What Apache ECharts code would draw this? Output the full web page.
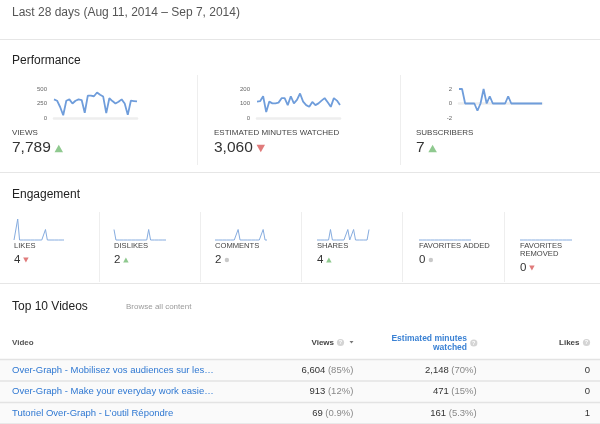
<!DOCTYPE html>
<html><head><meta charset="utf-8">
<script src="https://cdn.jsdelivr.net/npm/echarts@6/dist/echarts.min.js"></script>
<style>html,body{margin:0;padding:0;background:#fff}#c{width:600px;height:424px}</style>
</head><body><div id="c"></div>
<script>
// ---------- data ----------
const days = ['Aug 11','Aug 12','Aug 13','Aug 14','Aug 15','Aug 16','Aug 17','Aug 18','Aug 19','Aug 20','Aug 21','Aug 22','Aug 23','Aug 24','Aug 25','Aug 26','Aug 27','Aug 28','Aug 29','Aug 30','Aug 31','Sep 1','Sep 2','Sep 3','Sep 4','Sep 5','Sep 6','Sep 7'];
const viewsData = [321,298,190,48,298,321,250,298,321,310,90,387,387,375,440,400,370,83,340,292,250,280,321,250,54,298,292,286];
const minutesData = [113,116,150,41,113,101,101,106,137,137,89,150,101,125,169,113,89,77,111,89,101,120,137,108,77,137,120,89];
const subscribersData = [2,2,0,0,0,0,-1,0,2,0,1,0,0,0,0,0,1,0,0,0,0,0,0,0,0,0,0,0];
const likesData = [0,0,2,0,0,0,0,0,0,0,0,0,0,0,0,0,0,1,0,0,0,0,0,0,0,0,0,0];
const dislikesData = [1,0,0,0,0,0,0,0,0,0,0,0,0,0,0,0,0,0,1,0,0,0,0,0,0,0,0,0];
const commentsData = [0,0,0,0,0,0,0,0,0,0,0,0,1,0,0,0,0,0,0,0,0,0,0,0,0,1,0,0];
const sharesData = [0,0,0,0,0,0,0,1,0,0,0,0,0,0,0,0,1,0,0,1,0,0,0,0,0,0,0,1];
const favAddedData = [0,0,0,0,0,0,0,0,0,0,0,0,0,0,0,0,0,0,0,0,0,0,0,0,0,0,0,0];
const favRemovedData = [0,0,0,0,0,0,0,0,0,0,0,0,0,0,0,0,0,0,0,0,0,0,0,0,0,0,0,0];

const perfLabels = ['VIEWS','ESTIMATED MINUTES WATCHED','SUBSCRIBERS'];
const perfTotals = ['7,789','3,060','7'];
const perfTrends = ['up','down','up'];
const perfAxes = [{min:0,max:500,interval:250},{min:0,max:200,interval:100},{min:-2,max:2,interval:2}];

const engLabels = ['LIKES','DISLIKES','COMMENTS','SHARES','FAVORITES ADDED','FAVORITES\nREMOVED'];
const engTotals = ['4','2','2','4','0','0'];
const engTrends = ['down','up','flat','up','flat','down'];

const videoTitles = ['Over-Graph - Mobilisez vos audiences sur les…','Over-Graph - Make your everyday work easie…','Tutoriel Over-Graph - L\u2019outil Répondre'];
const videoViews = ['6,604','913','69'];
const videoViewsPct = ['(85%)','(12%)','(0.9%)'];
const videoMinutes = ['2,148','471','161'];
const videoMinutesPct = ['(70%)','(15%)','(5.3%)'];
const videoLikes = ['0','0','1'];

// ---------- layout ----------
const FONT = '"Liberation Sans", Arial, Helvetica, sans-serif';
const GREEN = '#8fc98f', RED = '#e07b7b', GREYDOT = '#c9c9c9';
const LINE_BLUE = '#6f9ddb', SPARK_BLUE = '#86acdf';
const perfGrid = [{left:54,width:83},{left:257,width:83},{left:459,width:83}];
const perfTextX = [12,214,416];
const engGrid = [{left:14,width:50},{left:114,width:52},{left:215,width:52},{left:317,width:52},{left:419,width:52},{left:520,width:52}];
const engTextX = [14,114,215,317,419,520];

const ctx = document.createElement('canvas').getContext('2d');
function measure(t, size, weight){ ctx.font = (weight||'normal')+' '+size+'px '+FONT; return ctx.measureText(t).width; }

const G = [];
function txt(x,y,text,size,color,o){
  o = o||{};
  G.push({type:'text', x:x, y:y, z:o.z||10, style:{text:text, fontSize:size, fontFamily:FONT, fontWeight:o.weight||'normal', fill:color, align:o.align||'left', verticalAlign:'middle'}});
}
function hline(x1,x2,y,color,w){ G.push({type:'line', z:5, shape:{x1:x1,y1:y,x2:x2,y2:y}, style:{stroke:color, lineWidth:w||1}}); }
function vline(x,y1,y2,color,w){ G.push({type:'line', z:5, shape:{x1:x,y1:y1,x2:x,y2:y2}, style:{stroke:color, lineWidth:w||1}}); }
function trend(kind, cx, cy, s){
  if(kind==='up') G.push({type:'polygon', z:10, shape:{points:[[cx-s/2,cy+s*0.45],[cx+s/2,cy+s*0.45],[cx,cy-s*0.45]]}, style:{fill:GREEN}});
  else if(kind==='down') G.push({type:'polygon', z:10, shape:{points:[[cx-s/2,cy-s*0.45],[cx+s/2,cy-s*0.45],[cx,cy+s*0.45]]}, style:{fill:RED}});
  else G.push({type:'circle', z:10, shape:{cx:cx,cy:cy,r:s*0.4}, style:{fill:GREYDOT}});
}
function qmark(cx,cy){
  G.push({type:'circle', z:10, shape:{cx:cx,cy:cy,r:3.6}, style:{fill:'#d4d4d4'}});
  txt(cx,cy+0.3,'?',5.5,'#fff',{align:'center',weight:'bold',z:11});
}

// header
txt(12,13,'Last 28 days (Aug 11, 2014 \u2013 Sep 7, 2014)',12,'#555');
hline(0,600,39.5,'#e6e6e6',1);
txt(12,61,'Performance',12,'#222');
vline(197.5,75,165,'#eeeeee',1);
vline(400.5,75,165,'#eeeeee',1);
perfLabels.forEach((l,i)=>{
  txt(perfTextX[i],133,l,8,'#444');
  txt(perfTextX[i],148,perfTotals[i],15.5,'#333');
  const w = measure(perfTotals[i],15.5);
  trend(perfTrends[i], perfTextX[i]+w+8, 148.5, 8.5);
});
hline(0,600,172.5,'#e6e6e6',1);
txt(12,195,'Engagement',12,'#222');
[99.5,200.5,301.5,402.5,504.5].forEach(x=>vline(x,212,282,'#eeeeee',1));
engLabels.forEach((l,i)=>{
  const parts = l.split('\n');
  parts.forEach((p,k)=>txt(engTextX[i],245.7+k*8.5,p,7.6,'#444'));
  const ny = 260 + (parts.length-1)*8;
  txt(engTextX[i],ny,engTotals[i],11.5,'#333');
  const w = measure(engTotals[i],11.5);
  trend(engTrends[i], engTextX[i]+w+5.5, ny, 5.5);
});
hline(0,600,283.5,'#e6e6e6',1);

// table
txt(12,307,'Top 10 Videos',12,'#222');
txt(126,307,'Browse all content',8,'#9a9a9a');
txt(12,342.3,'Video',8,'#555',{weight:'bold'});
txt(334,342.3,'Views',8,'#444',{weight:'bold',align:'right'});
qmark(340.5,342.5);
G.push({type:'polygon', z:10, shape:{points:[[349.5,341],[353.5,341],[351.5,343.5]]}, style:{fill:'#777'}});
txt(467,338.3,'Estimated minutes',8.5,'#3b82d4',{weight:'bold',align:'right'});
txt(467,347.3,'watched',8.5,'#3b82d4',{weight:'bold',align:'right'});
qmark(473.8,343);
txt(579.5,342.3,'Likes',8,'#444',{weight:'bold',align:'right'});
qmark(586.5,342.5);
const rowTop = [359.5,381,402.5], rowH = 21.5;
hline(0,600,359.5,'#e3e3e3',1.5);
videoTitles.forEach((t,i)=>{
  G.push({type:'rect', z:1, shape:{x:0,y:rowTop[i],width:600,height:rowH}, style:{fill:'#fafafa'}});
  hline(0,600,rowTop[i]+rowH,'#e3e3e3',1.5);
  const cy = rowTop[i]+rowH/2;
  txt(12,cy,t,9.5,'#2f78d2');
  const pw = measure(videoViewsPct[i],9.5);
  txt(353.3,cy,videoViewsPct[i],9.5,'#888',{align:'right'});
  txt(353.3-pw-2.6,cy,videoViews[i],9.5,'#333',{align:'right'});
  const mw = measure(videoMinutesPct[i],9.5);
  txt(476.7,cy,videoMinutesPct[i],9.5,'#888',{align:'right'});
  txt(476.7-mw-2.6,cy,videoMinutes[i],9.5,'#333',{align:'right'});
  txt(590,cy,videoLikes[i],9.5,'#333',{align:'right'});
});

// ---------- chart ----------
const grids = [], xAxes = [], yAxes = [], series = [];
const perfData = [viewsData, minutesData, subscribersData];
perfData.forEach((d,i)=>{
  grids.push({left:perfGrid[i].left, width:perfGrid[i].width, top:89, height:29});
  xAxes.push({type:'category', gridIndex:i, data:days, boundaryGap:false,
    axisLine:{show:true,onZero:true,lineStyle:{color:'#eeeeee',width:2.5}}, axisTick:{show:false}, axisLabel:{show:false}, splitLine:{show:false}});
  yAxes.push({type:'value', gridIndex:i, min:perfAxes[i].min, max:perfAxes[i].max, interval:perfAxes[i].interval,
    axisLine:{show:false}, axisTick:{show:false}, splitLine:{show:false},
    axisLabel:{fontSize:6, color:'#666', margin:7, fontFamily:FONT}});
  series.push({type:'line', xAxisIndex:i, yAxisIndex:i, data:d, symbol:'none', clip:false,
    lineStyle:{color:LINE_BLUE, width:1.8}, z:3});
});
const engData = [likesData, dislikesData, commentsData, sharesData, favAddedData, favRemovedData];
engData.forEach((d,j)=>{
  const i = 3+j;
  grids.push({left:engGrid[j].left, width:engGrid[j].width, top:219, height:21});
  xAxes.push({type:'category', gridIndex:i, data:days, boundaryGap:false, show:false});
  yAxes.push({type:'value', gridIndex:i, min:0, max:2, show:false});
  series.push({type:'line', xAxisIndex:i, yAxisIndex:i, data:d, symbol:'none', clip:false,
    lineStyle:{color:SPARK_BLUE, width:1}, z:3});
});

const chart = echarts.init(document.getElementById('c'), null, {renderer:'canvas'});
chart.setOption({
  animation:false,
  backgroundColor:'#fff',
  grid:grids, xAxis:xAxes, yAxis:yAxes, series:series,
  graphic:{elements:G}
});
</script>
</body></html>
